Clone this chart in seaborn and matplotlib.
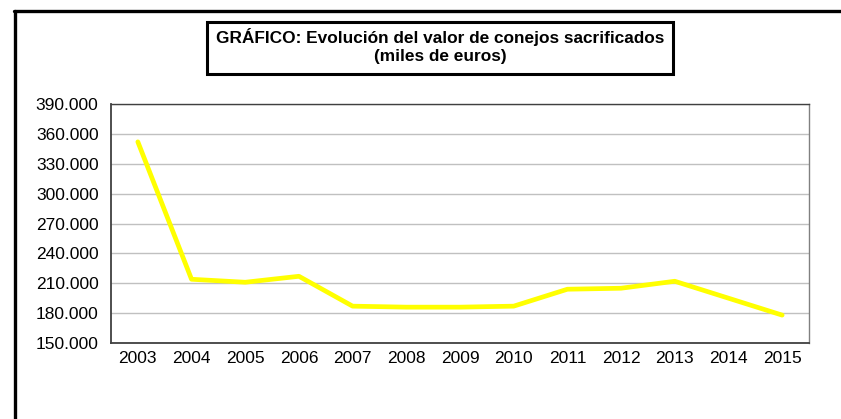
"""Evolución del valor de conejos sacrificados (miles de euros)."""

import matplotlib
import pandas as pd
import seaborn as sns
from matplotlib.patches import Rectangle
from matplotlib.lines import Line2D
from matplotlib.ticker import FuncFormatter, MultipleLocator

matplotlib.use("Agg")
import matplotlib.pyplot as plt

years = [2003, 2004, 2005, 2006, 2007, 2008, 2009, 2010, 2011, 2012, 2013, 2014, 2015]
values = [352000, 214000, 211000, 217000, 187000, 186000, 186000, 187000,
          204000, 205000, 212000, 195000, 178000]
title = "GRÁFICO: Evolución del valor de conejos sacrificados\n(miles de euros)"

df = pd.DataFrame({"year": years, "value": values})

sns.set_style("white")
plt.rcParams["font.family"] = ["Liberation Sans", "DejaVu Sans"]

fig = plt.figure(figsize=(8.41, 4.19), dpi=100)
ax = fig.add_axes([111 / 841, 1 - 343 / 419, (809 - 111) / 841, (343 - 104) / 419])

sns.lineplot(data=df, x="year", y="value", ax=ax, color="#ffff00", linewidth=3.4)

ax.set_xlim(years[0] - 0.5, years[-1] + 0.5)
ax.set_ylim(150000, 390000)
ax.yaxis.set_major_locator(MultipleLocator(30000))
ax.yaxis.set_major_formatter(FuncFormatter(lambda v, _: f"{int(v):,}".replace(",", ".")))
ax.set_xticks(years)
ax.set_xticks([y + 0.5 for y in [years[0] - 1] + years], minor=True)
ax.tick_params(axis="x", which="major", length=0, labelsize=12.5, pad=6, colors="black")
ax.tick_params(axis="x", which="minor", length=5, width=1, color="#404040", direction="out")
ax.tick_params(axis="y", length=5, width=1, color="#404040", direction="out",
               labelsize=12.5, pad=4, labelcolor="black")
ax.set_xlabel("")
ax.set_ylabel("")
ax.grid(axis="y", color="#c0c0c0", linewidth=1)
ax.set_axisbelow(True)

for side in ["left", "bottom"]:
    ax.spines[side].set_color("#404040")
    ax.spines[side].set_linewidth(1.3)
ax.spines["top"].set_color("#404040")
ax.spines["top"].set_linewidth(1)
ax.spines["right"].set_color("#808080")
ax.spines["right"].set_linewidth(1)

# title in a framed box
fig.patches.append(Rectangle((207 / 841, 1 - 74 / 419), (673 - 207) / 841, (74 - 22) / 419,
                             transform=fig.transFigure, fill=False, edgecolor="black",
                             linewidth=2.2))
fig.text(440 / 841, 1 - 46 / 419, title, ha="center", va="center", fontsize=12.4,
         fontweight="bold", linespacing=1.2, color="black")

# outer chart frame (only top and left edges visible)
fig.lines.append(Line2D([14.5 / 841, 14.5 / 841], [0, 1 - 11.5 / 419],
                        transform=fig.transFigure, color="black", linewidth=2.4))
fig.lines.append(Line2D([13.5 / 841, 1], [1 - 11.5 / 419, 1 - 11.5 / 419],
                        transform=fig.transFigure, color="black", linewidth=2.4))

fig.savefig("out.png", dpi=100)
plt.close(fig)
